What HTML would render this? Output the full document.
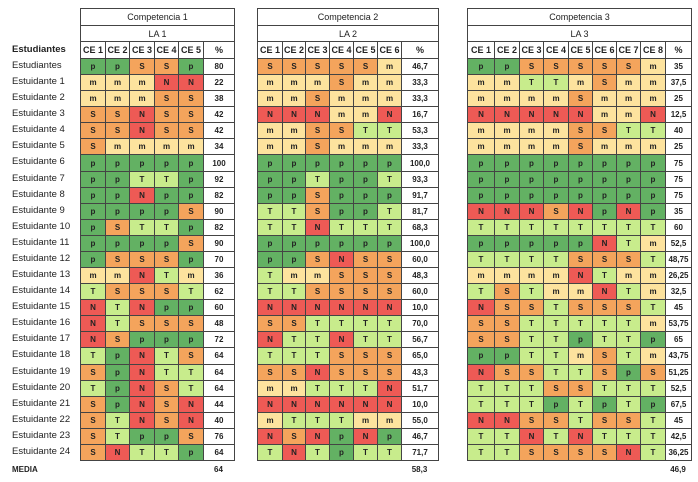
<!DOCTYPE html>
<html><head><meta charset="utf-8">
<style>
body{margin:0;background:#fff;width:698px;height:482px;position:relative;overflow:hidden;font-family:"Liberation Sans",Arial,sans-serif;}
.c{position:absolute;box-sizing:border-box;border:1px solid #444;display:flex;align-items:center;justify-content:center;font-size:8px;font-weight:bold;color:#222;}
.h{font-weight:normal;font-size:9px;background:#fff;}
.lbl{position:absolute;font-size:9.5px;color:#222;left:12px;}
</style></head><body>
<script>
const codesT1=[
"ppSSp","mmmNN","mmmSS","SSNSS","SSNSS","Smmmm","ppppp","ppTTp","ppNpp","ppppS","pSTTp","ppppS","pSSSp","mmNTm","TSSST","NTNpp","NTSSS","NSppp","TpNTS","SpNTT","TpNST","SpNSN","STNSN","STppS","SNTTp"];
const pctT1=["80","22","38","42","42","34","100","92","82","90","82","90","70","36","62","60","48","72","64","64","64","44","40","76","64"];
const codesT2=[
"SSSSSm","mmmSmm","mmSmmm","NNNmmN","mmSSTT","mmSmmm","pppppp","ppTppT","ppSppp","TTSppT","TTNTTT","pppppp","ppSNSS","TmmSSS","TTSSSS","NNNNNN","SSTTTT","NTTNTT","TTTSSS","SSNSSS","mmTTTN","NNNNNN","mTTTmm","NSNpNp","TNTpTT"];
const pctT2=["46,7","33,3","33,3","16,7","53,3","33,3","100,0","93,3","91,7","81,7","68,3","100,0","60,0","48,3","60,0","10,0","70,0","56,7","65,0","43,3","51,7","10,0","55,0","46,7","71,7"];
const codesT3=[
"ppSSSSSm","mmTTmSmm","mmmmSmmm","NNNNNmmN","mmmmSSTT","mmmmSmmm","pppppppp","pppppppp","pppppppp","NNNSNpNp","TTTTTTTT","pppppNTm","TTTTSSST","mmmmNTmm","TSTmmNTm","NSSTSSST","SSTTTTTm","SSTTpTTp","ppTTmSTm","NSSTTSpS","TTTSSTTT","TTTpTpTp","NNSSTSST","TTNTNTTT","TTSSSSNT"];
const pctT3=["35","37,5","25","12,5","40","25","75","75","75","35","60","52,5","48,75","26,25","32,5","45","53,75","65","43,75","51,25","52,5","67,5","45","42,5","36,25"];
const means=["64","58,3","46,9"];
const colors={p:"#63b163",T:"#c8ec8c",S:"#f4a45c",m:"#fde39e",N:"#ee5a55"};
const tables=[
 {x:[80,105,129,154,178,203,234],codes:codesT1,pct:pctT1,title:"Competencia 1",la:"LA 1"},
 {x:[257,282,305,329,353,377,401,438],codes:codesT2,pct:pctT2,title:"Competencia 2",la:"LA 2"},
 {x:[467,494,519,543,568,592,616,640,665,691],codes:codesT3,pct:pctT3,title:"Competencia 3",la:"LA 3"}];
const top0=8,hh=16.7,rh=16.08,dataTop=58;
function cell(x,y,w,h,txt,cls,bg){
 const d=document.createElement('div');
 d.className='c '+(cls||'');
 d.style.left=x+'px';d.style.top=y+'px';d.style.width=(w+1)+'px';d.style.height=(h+1)+'px';
 if(bg)d.style.background=bg;
 d.textContent=txt;document.body.appendChild(d);return d;
}
tables.forEach((t,ti)=>{
 const L=t.x[0],R=t.x[t.x.length-1];
 let e=cell(L,top0,R-L,hh,t.title,'h');
 
 
 e=cell(L,top0+hh,R-L,hh,t.la,'h');
 
 
 const n=t.x.length-2;
 for(let j=0;j<=n;j++){
  e=cell(t.x[j],top0+2*hh,t.x[j+1]-t.x[j],dataTop-(top0+2*hh),j<n?'CE '+(j+1):'%','h');
  e.style.fontWeight='bold';
  
  
 }
 t.codes.forEach((row,i)=>{
  const y=dataTop+i*rh;
  for(let j=0;j<n;j++){
   const ch=row[j];
   e=cell(t.x[j],y,t.x[j+1]-t.x[j],rh,ch,'',colors[ch]);
   
   
  }
  e=cell(t.x[n],y,t.x[n+1]-t.x[n],rh,t.pct[i],'','#fff');
  
  
 });
 const m=document.createElement('div');
 m.className='lbl';m.style.left='';m.style.width=(t.x[n+1]-t.x[n])+'px';
 m.style.left=t.x[n]+'px';m.style.textAlign='center';m.style.top='465px';m.style.fontSize='8px';m.style.fontWeight='bold';
 m.textContent=means[ti];
 
 
 document.body.appendChild(m);
});
const h=document.createElement('div');h.className='lbl';h.style.top='44px';h.style.fontWeight='bold';h.textContent='Estudiantes';


document.body.appendChild(h);
for(let i=0;i<25;i++){
 const d=document.createElement('div');d.className='lbl';
 d.style.top=(dataTop+i*rh+2)+'px';
 d.textContent=i===0?'Estudiantes':'Estuidante '+i;
 
 
 document.body.appendChild(d);
}
const md=document.createElement('div');md.className='lbl';md.style.top='465px';md.style.fontWeight='bold';md.style.fontSize='8px';md.textContent='MEDIA';


document.body.appendChild(md);
</script>
</body></html>
